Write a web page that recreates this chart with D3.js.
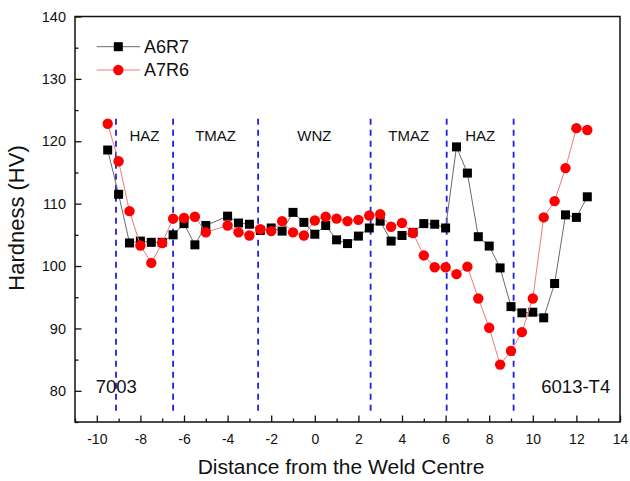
<!DOCTYPE html>
<html>
<head>
<meta charset="utf-8">
<script src="https://cdn.jsdelivr.net/npm/d3@7"></script>
<style>
  body { margin: 0; background: #fff; }
  svg { display: block; font-family: "Liberation Sans", Arial, sans-serif; }
</style>
</head>
<body>
<div id="chart"></div>
<script>
// Hardness profile across the weld

// Data
const distance = [-9.5, -9, -8.5, -8, -7.5, -7, -6.5, -6, -5.5, -5, -4, -3.5, -3, -2.5, -2, -1.5, -1, -0.5, 0, 0.5,
                  1, 1.5, 2, 2.5, 3, 3.5, 4, 4.5, 5, 5.5, 6, 6.5, 7, 7.5, 8, 8.5, 9, 9.5, 10, 10.5, 11, 11.5, 12, 12.5];
const a6r7 = [118.6, 111.5, 103.7, 104.0, 103.8, 103.8, 105.0, 106.8, 103.4, 106.5, 108.0, 106.9, 106.7, 105.7, 106.1, 105.6, 108.6, 107.0, 105.1, 106.5,
              104.2, 103.6, 104.8, 106.1, 107.2, 104.0, 104.9, 105.4, 106.8, 106.7, 106.1, 119.1, 114.9, 104.7, 103.2, 99.7, 93.5, 92.5, 92.6, 91.7, 97.2, 108.2, 107.8, 111.1];
const a7r6 = [122.8, 116.8, 108.8, 103.3, 100.5, 103.7, 107.6, 107.7, 107.9, 105.4, 106.5, 105.4, 104.9, 105.9, 105.6, 107.2, 105.4, 104.9, 107.3, 107.9,
              107.6, 107.2, 107.4, 108.1, 108.3, 106.3, 106.9, 105.3, 101.7, 99.8, 99.8, 98.7, 99.9, 94.8, 90.1, 84.2, 86.4, 89.4, 94.8, 107.8, 110.4, 115.7, 122.1, 121.8];
const seriesNames = ['A6R7', 'A7R6'];

// zone boundaries (dashed lines) and zone names between them
const boundaries = [-9.12, -6.5, -2.6, 2.56, 6.05, 9.12];
const zoneNames = ['HAZ', 'TMAZ', 'WNZ', 'TMAZ', 'HAZ'];
const alloyNames = ['7003', '6013-T4'];

const xTicks = [-10, -8, -6, -4, -2, 0, 2, 4, 6, 8, 10, 12, 14];
const yTicks = [80, 90, 100, 110, 120, 130, 140];

// Layout
const W = 630, H = 481;
const margin = { top: 16.5, right: 10, bottom: 59, left: 75 };
const width = W - margin.left - margin.right;
const height = H - margin.top - margin.bottom;

const svg = d3.select('#chart')
    .append('svg')
    .attr('width', W)
    .attr('height', H);

const g = svg.append('g')
    .attr('transform', `translate(${margin.left}, ${margin.top})`);

const x = d3.scaleLinear().domain([-11, 14]).range([0, width]);
const y = d3.scaleLinear().domain([75, 140]).range([height, 0]);

// Minor ticks
const xMinor = d3.axisBottom(x).tickValues(d3.range(-11, 14, 2)).tickSize(-3.5).tickFormat('');
const yMinor = d3.axisLeft(y).tickValues(d3.range(75, 140, 10)).tickSize(-3.5).tickFormat('');

g.append('g').attr('transform', `translate(0, ${height})`).call(xMinor)
    .call(a => a.select('.domain').remove())
    .selectAll('line').attr('stroke', '#111').attr('stroke-width', 1.3);
g.append('g').call(yMinor)
    .call(a => a.select('.domain').remove())
    .selectAll('line').attr('stroke', '#111').attr('stroke-width', 1.3);

// Major axes
const xAxis = d3.axisBottom(x).tickValues(xTicks).tickSize(-6.5).tickPadding(12).tickFormat(d3.format('d'));
const yAxis = d3.axisLeft(y).tickValues(yTicks).tickSize(-6.5).tickPadding(9);

g.append('g').attr('transform', `translate(0, ${height})`).call(xAxis)
    .call(a => a.select('.domain').remove())
    .call(a => a.selectAll('line').attr('stroke', '#111').attr('stroke-width', 1.3))
    .selectAll('text').attr('fill', '#111').style('font-size', '14px')
    .text(d => d < 0 ? '-' + Math.abs(d) : d);

g.append('g').call(yAxis)
    .call(a => a.select('.domain').remove())
    .call(a => a.selectAll('line').attr('stroke', '#111').attr('stroke-width', 1.3))
    .selectAll('text').attr('fill', '#111').style('font-size', '14.5px');

// Frame
g.append('rect')
    .attr('width', width)
    .attr('height', height)
    .attr('fill', 'none')
    .attr('stroke', '#111')
    .attr('stroke-width', 1.5);

// Zone boundaries
g.selectAll('.boundary')
    .data(boundaries)
    .enter()
    .append('line')
    .attr('class', 'boundary')
    .attr('x1', d => x(d)).attr('x2', d => x(d))
    .attr('y1', y(123.6)).attr('y2', y(76.2))
    .attr('stroke', '#1f1fe0')
    .attr('stroke-width', 1.8)
    .attr('stroke-dasharray', '6,5');

// Zone labels
g.selectAll('.zone')
    .data(zoneNames)
    .enter()
    .append('text')
    .attr('class', 'zone')
    .attr('x', (d, i) => x((boundaries[i] + boundaries[i + 1]) / 2))
    .attr('y', y(120))
    .attr('text-anchor', 'middle')
    .attr('fill', '#111')
    .style('font-size', '15px')
    .text(d => d);

// Alloy labels
g.append('text')
    .attr('x', x(-10.05))
    .attr('y', y(79.6))
    .attr('fill', '#111')
    .style('font-size', '18.5px')
    .text(alloyNames[0]);

g.append('text')
    .attr('x', x(13.55))
    .attr('y', y(79.6))
    .attr('text-anchor', 'end')
    .attr('fill', '#111')
    .style('font-size', '18.5px')
    .text(alloyNames[1]);

// Series
const lineGen = d3.line()
    .x((d, i) => x(distance[i]))
    .y(d => y(d));

// A6R7 - black squares
g.append('path')
    .datum(a6r7)
    .attr('fill', 'none')
    .attr('stroke', '#6a6a6a')
    .attr('stroke-width', 1)
    .attr('d', lineGen);

const sq = 9;
g.selectAll('.sq')
    .data(a6r7)
    .enter()
    .append('rect')
    .attr('class', 'sq')
    .attr('x', (d, i) => x(distance[i]) - sq / 2)
    .attr('y', d => y(d) - sq / 2)
    .attr('width', sq)
    .attr('height', sq)
    .attr('fill', '#000');

// A7R6 - red circles
g.append('path')
    .datum(a7r6)
    .attr('fill', 'none')
    .attr('stroke', '#f07a7a')
    .attr('stroke-width', 1)
    .attr('d', lineGen);

g.selectAll('.dot')
    .data(a7r6)
    .enter()
    .append('circle')
    .attr('class', 'dot')
    .attr('cx', (d, i) => x(distance[i]))
    .attr('cy', d => y(d))
    .attr('r', 5.2)
    .attr('fill', '#ff0000');

// Legend
const legend = svg.append('g');
const legendRows = [
    { name: seriesNames[0], line: '#6a6a6a', y: 46.7 },
    { name: seriesNames[1], line: '#f07a7a', y: 70 }
];
legendRows.forEach((r, i) => {
    legend.append('line')
        .attr('x1', 96.7).attr('x2', 140)
        .attr('y1', r.y).attr('y2', r.y)
        .attr('stroke', r.line)
        .attr('stroke-width', 1);
    if (i === 0) {
        legend.append('rect')
            .attr('x', 118.3 - sq / 2).attr('y', r.y - sq / 2)
            .attr('width', sq).attr('height', sq)
            .attr('fill', '#000');
    } else {
        legend.append('circle')
            .attr('cx', 118.3).attr('cy', r.y)
            .attr('r', 5.2)
            .attr('fill', '#ff0000');
    }
    legend.append('text')
        .attr('x', 144)
        .attr('y', r.y)
        .attr('dy', '0.35em')
        .attr('fill', '#111')
        .style('font-size', '18px')
        .text(r.name);
});

// Axis titles
svg.append('text')
    .attr('x', 341)
    .attr('y', 474)
    .attr('text-anchor', 'middle')
    .attr('fill', '#111')
    .style('font-size', '21px')
    .text('Distance from the Weld Centre');

svg.append('text')
    .attr('transform', 'translate(24, 218) rotate(-90)')
    .attr('text-anchor', 'middle')
    .attr('fill', '#111')
    .style('font-size', '22px')
    .text('Hardness (HV)');
</script>
</body>
</html>
